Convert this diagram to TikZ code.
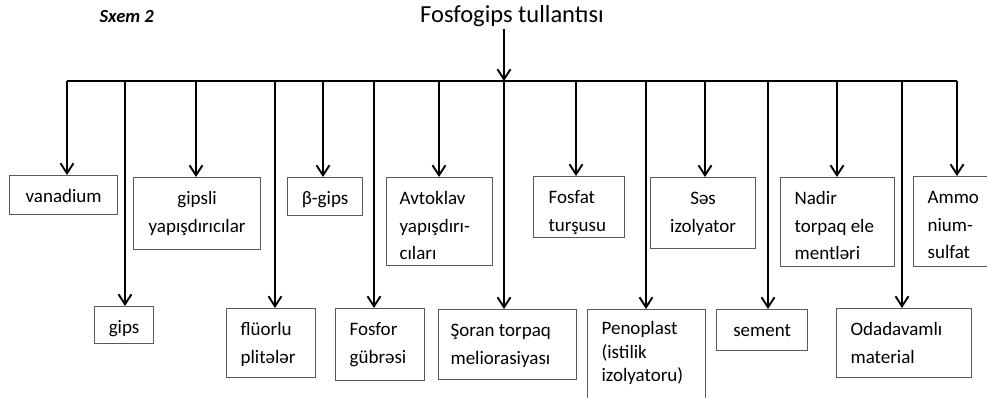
\documentclass[tikz,border=0pt]{standalone}
\usepackage{fontspec}
\setmainfont{Carlito}
\usepackage{tikz}
\usetikzlibrary{arrows.meta}

\tikzset{
  item/.style={draw=black!65, line width=1.2pt, anchor=north west,
    font=\fontsize{19}{27.5}\selectfont, inner ysep=0pt, text height=27pt},
  mid/.style={item, align=center, inner xsep=0pt},
  lft/.style={item, align=flush left, inner xsep=14pt},
  wire/.style={line width=1.9pt},
  feed/.style={wire, -{Straight Barb[length=10pt,width=13pt,line width=1.9pt]}},
}

\begin{document}
\begin{tikzpicture}[x=1pt, y=-1pt]
    \useasboundingbox (0,0) rectangle (987,397);
    \clip (0,0) rectangle (987,397);

    \node[font=\fontsize{18.5}{22}\selectfont\bfseries\itshape, anchor=west] (sxem) at (96,17) {Sxem 2};
    \node[font=\fontsize{24.5}{28}\selectfont, inner sep=2pt] (src) at (512,16) {Fosfogips tullantısı};

    % upper row
    \node[mid, text width=108pt, text depth=12pt] (vanadium) at (9,175) {vanadium};
    \node[mid, text width=127pt, text depth=45pt] (gipsli) at (133,177) {gipsli\\yapışdırıcılar};
    \node[mid, text width=75pt, text depth=11pt] (bgips) at (287,177) {β-gips};
    \node[lft, inner xsep=13pt, text width=80pt, text depth=61pt] (avtoklav) at (386,177) {Avtoklav\\yapışdırı-\\cıları};
    \node[lft, inner xsep=15pt, text width=61pt, text depth=34pt] (fosfat) at (533,176) {Fosfat\\turşusu};
    \node[mid, text width=105pt, text depth=44pt] (ses) at (650,177) {Səs\\izolyator};
    \node[lft, text width=86pt, text depth=62pt] (nadir) at (780,177) {Nadir\\torpaq ele\\mentləri};
    \node[lft, text width=120pt, text depth=63pt] (ammo) at (913,176) {Ammo\\nium-\\sulfat};

    % lower row
    \node[mid, text width=59pt, text depth=10pt] (gips) at (94,306) {gips};
    \node[lft, text width=61pt, text depth=42pt] (fluorlu) at (226,308) {flüorlu\\plitələr};
    \node[lft, text width=61pt, text depth=45pt] (fosfor) at (335,308) {Fosfor\\gübrəsi};
    \node[lft, inner xsep=12pt, text width=114pt, text depth=43pt] (soran) at (438,309) {Şoran torpaq\\meliorasiyası};
    \node[lft, text width=90pt, text height=25pt, text depth=88pt,
      font=\fontsize{19}{23.5}\selectfont] (penoplast) at (587,309) {Penoplast\\(istilik\\izolyatoru)};
    \node[mid, text width=91pt, text depth=14pt] (sement) at (716,309) {sement};
    \node[lft, text width=107pt, text depth=42pt] (odadavamli) at (836,308) {Odadavamlı\\material};

    \coordinate (busL) at (67,81);
    \coordinate (busR) at (957,81);
    \coordinate (hub) at (504,81);

    \draw[feed] (src.south -| hub) -- (hub);
    \draw[wire] (busL) -- (busR);

    \foreach \x/\b in {67/vanadium, 196/gipsli, 323/bgips, 439/avtoklav, 576/fosfat,
                       705/ses, 837/nadir, 957/ammo, 125/gips, 275/fluorlu, 374/fosfor,
                       504/soran, 646/penoplast, 768/sement, 902/odadavamli}
        \draw[feed] (\x,81) -- (\x,81 |- \b.north);

\end{tikzpicture}
\end{document}
